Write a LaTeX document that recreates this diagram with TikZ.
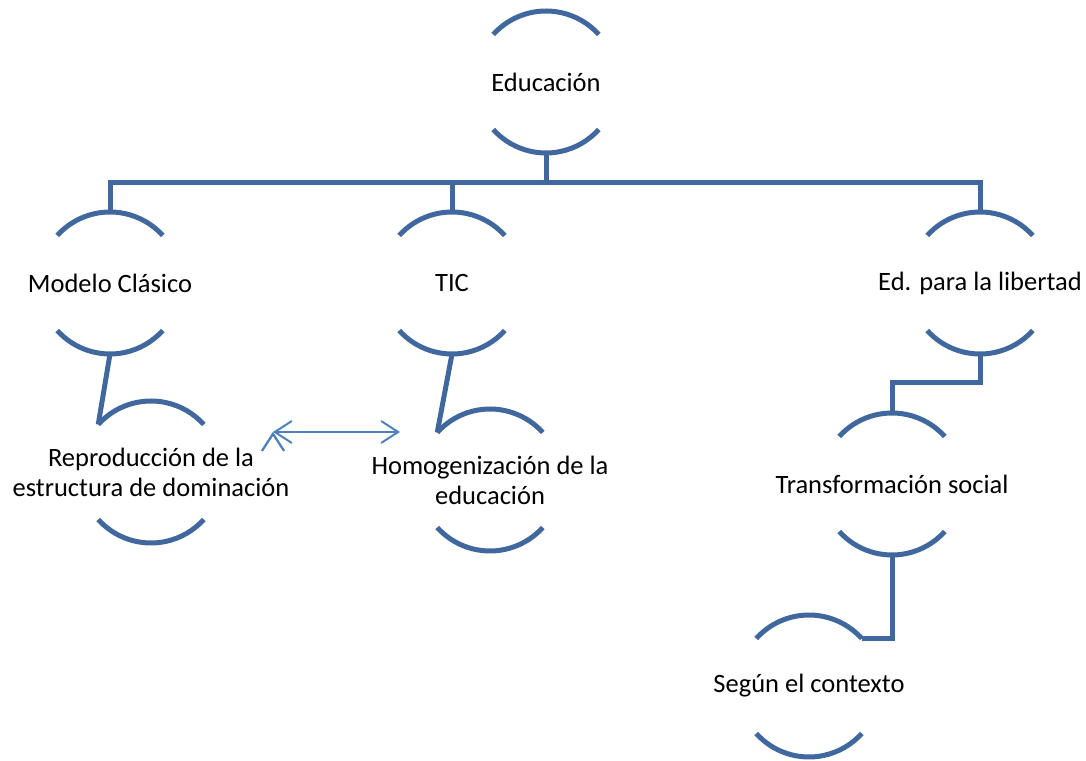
\documentclass[tikz,border=0pt]{standalone}
\usepackage{fontspec}
\setmainfont{Carlito}
\usetikzlibrary{arrows.meta}
\definecolor{hubblue}{RGB}{65,104,158}
\definecolor{linkblue}{RGB}{79,129,189}
\begin{document}
\begin{tikzpicture}[x=1pt, y=1pt]
  \tikzstyle{node}=[circle, minimum size=142pt, inner sep=0pt, outer sep=0pt]
  \tikzstyle{lbl}=[font=\fontsize{26.5}{30}\selectfont, align=center, inner sep=0pt]
  \tikzstyle{rim}=[draw=hubblue, line width=5pt]
  \tikzstyle{link}=[draw=hubblue, line width=5pt]
  \tikzstyle{both}=[draw=linkblue, line width=2pt, {Straight Barb[length=17pt, width=22pt]}-{Straight Barb[length=17pt, width=22pt]}]

  \useasboundingbox (0,0) rectangle (1086,760);

  \node[node, label={[lbl]center:Educación}]            (edu) at (546, 678) {};
  \node[node, label={[lbl]center:Modelo Clásico}]       (mc)  at (110, 477) {};
  \node[node, label={[lbl]center:TIC}]                  (tic) at (452, 477) {};
  \node[node, label={[lbl]center:Ed. para la libertad}] (ed)  at (980, 477) {};
  \node[node, label={[lbl]center:{Reproducción de la\\estructura de dominación}}] (rep) at (151, 288) {};
  \node[node, label={[lbl]center:{Homogenización de la\\educación}}]              (hom) at (490, 280) {};
  \node[node, label={[lbl]center:Transformación social}] (tra) at (892, 276) {};
  \node[node, label={[lbl]center:Según el contexto}]     (seg) at (809, 74)  {};

  \coordinate (bus) at (546, 577);
  \coordinate (a1)  at (273, 328);
  \coordinate (a2)  at (400, 328);

  % arcs above and below each text
  \draw[rim] (edu.138) arc[start angle=138, end angle=42, radius=71pt] (edu.222) arc[start angle=222, end angle=318, radius=71pt];
  \draw[rim] (mc.138)  arc[start angle=138, end angle=42, radius=71pt] (mc.222)  arc[start angle=222, end angle=318, radius=71pt];
  \draw[rim] (tic.138) arc[start angle=138, end angle=42, radius=71pt] (tic.222) arc[start angle=222, end angle=318, radius=71pt];
  \draw[rim] (ed.138)  arc[start angle=138, end angle=42, radius=71pt] (ed.222)  arc[start angle=222, end angle=318, radius=71pt];
  \draw[rim] (rep.138) arc[start angle=138, end angle=42, radius=71pt] (rep.222) arc[start angle=222, end angle=318, radius=71pt];
  \draw[rim] (hom.138) arc[start angle=138, end angle=42, radius=71pt] (hom.222) arc[start angle=222, end angle=318, radius=71pt];
  \draw[rim] (tra.138) arc[start angle=138, end angle=42, radius=71pt] (tra.222) arc[start angle=222, end angle=318, radius=71pt];
  \draw[rim] (seg.138) arc[start angle=138, end angle=42, radius=71pt] (seg.222) arc[start angle=222, end angle=318, radius=71pt];

  \draw[link] (edu.south) -- (bus) -| (mc.north);
  \draw[link] (bus) -| (tic.north);
  \draw[link] (bus) -| (ed.north);
  \draw[link] (mc.south) -- (rep.138);
  \draw[link] (tic.south) -- (hom.138);
  \draw[link] (ed.south) -- ++(0,-29) -| (tra.north);
  \draw[link] (tra.south) |- (seg.42);

  \path[both] (a1) edge (a2);
\end{tikzpicture}
\end{document}
